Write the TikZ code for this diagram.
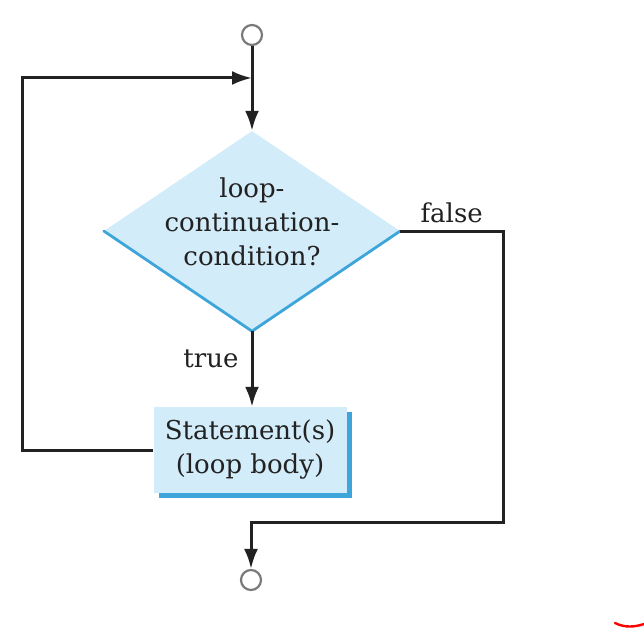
\documentclass[tikz,border=0pt]{standalone}
\usepackage{fontspec}
\setmainfont{DejaVu Serif}
\usepackage{tikz}
\usetikzlibrary{shapes,shadows,arrows.meta,positioning,calc}
\definecolor{boxfill}{HTML}{D2ECF9}
\definecolor{boxedge}{HTML}{3DA5DA}
\definecolor{linegray}{HTML}{222222}
\definecolor{ringgray}{HTML}{7A7A7A}
\newcommand{\flowfont}{\fontsize{26}{34}\selectfont}

\begin{document}
\begin{tikzpicture}[x=1pt,y=-1pt,
	flowline/.style={draw=linegray, line width=3pt},
	flowarrow/.style={flowline, -{Latex[length=20pt,width=14pt]}},
	terminal/.style={circle, draw=ringgray, line width=2.2pt, minimum size=20pt, inner sep=0pt}]
		\useasboundingbox (0,0) rectangle (644,628);
		\node at (252,35) [terminal] (S) {};
		\node at (252,231) [diamond, fill=boxfill, minimum width=296pt, minimum height=200pt, inner sep=0pt] (C) {};
		\node at ($(C)+(0,-9)$) [align=center, text=linegray, font=\flowfont] (Ct) {loop-\\continuation-\\condition?};
		\draw[boxedge, line width=2.8pt, line cap=round] (C.west) -- (C.south) -- (C.east);
		\node at (250,450) [rectangle, fill=boxfill, minimum width=193pt, minimum height=86pt, align=center, text=linegray, font=\flowfont,
			drop shadow={shadow xshift=5pt, shadow yshift=-5pt, fill=boxedge, opacity=1}] (B) {Statement(s)\\(loop body)};
		\node at (251,580) [terminal] (E) {};
		\coordinate (J) at (252,78);
		\draw[flowarrow] (S) -- (C.north);
		\draw[flowarrow] (C.south) -- node[left, pos=0.36, text=linegray, font=\flowfont, inner sep=12pt] (T) {true} (C.south |- B.north);
		\draw[flowarrow] (B.west) -- ++(-131,0) |- (J);
		\draw[flowarrow] (C.east) -- node[above, text=linegray, font=\flowfont, inner sep=7pt] (F) {false} ++(103,0) -- ++(0,291) -| (E.north);
		\draw[red, line width=2.4pt, line cap=round] (615,623) .. controls (625,628) and (635,627) .. (644,624);
		\end{tikzpicture}
\end{document}
